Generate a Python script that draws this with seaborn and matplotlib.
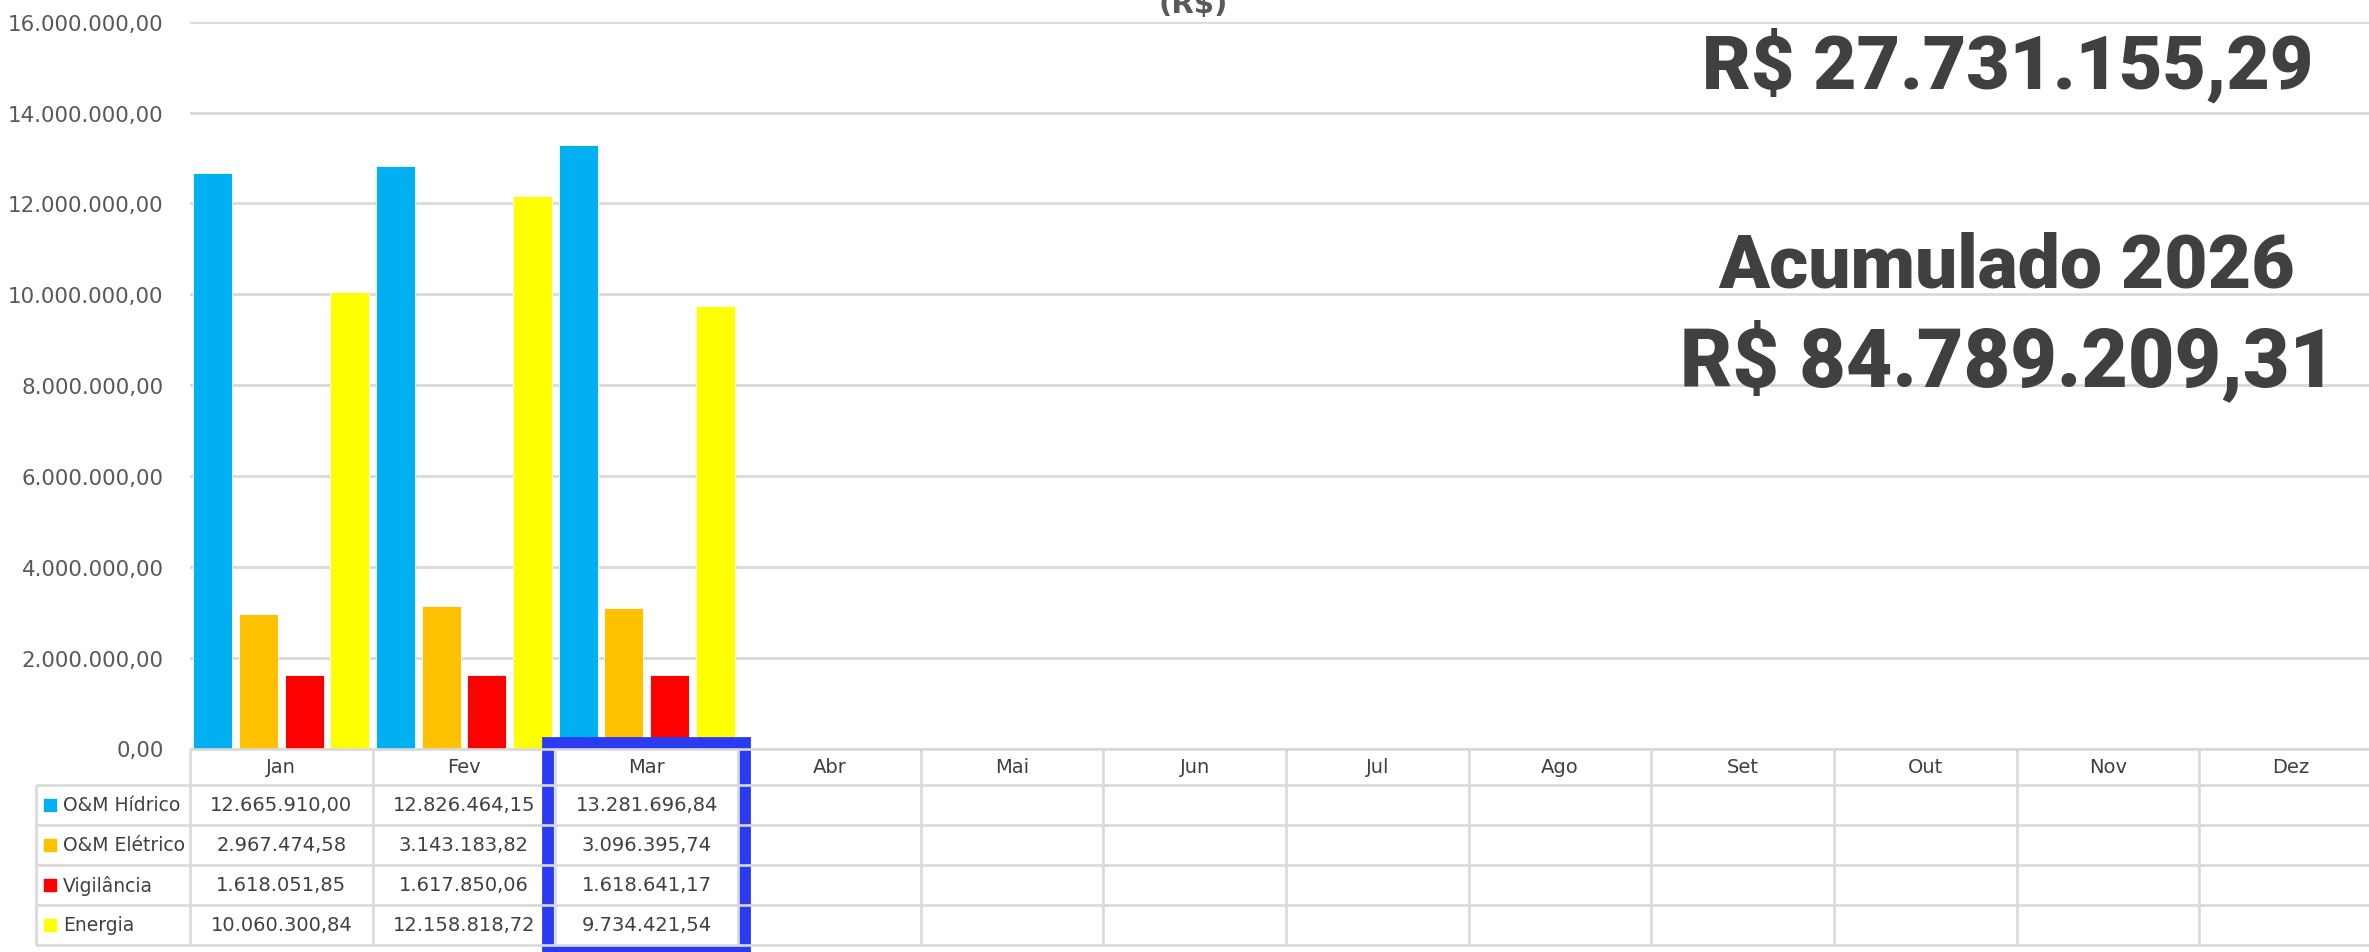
import numpy as np
import pandas as pd
import seaborn as sns
import matplotlib.pyplot as plt
from matplotlib.patches import Rectangle
from matplotlib.ticker import FuncFormatter

# dados (R$)
meses = ['Jan', 'Fev', 'Mar', 'Abr', 'Mai', 'Jun', 'Jul', 'Ago', 'Set', 'Out', 'Nov', 'Dez']
series = ['O&M Hídrico', 'O&M Elétrico', 'Vigilância', 'Energia']
cores = ['#00B0F0', '#FFC000', '#FF0000', '#FFFF00']

om_hidrico = [12665910.00, 12826464.15, 13281696.84]
om_eletrico = [2967474.58, 3143183.82, 3096395.74]
vigilancia = [1618051.85, 1617850.06, 1618641.17]
energia = [10060300.84, 12158818.72, 9734421.54]

yticks = [0, 2e6, 4e6, 6e6, 8e6, 10e6, 12e6, 14e6, 16e6]
mes_destaque = 'Mar'
ano = 2026


def brl(v):
    s = f"{v:,.2f}"
    return s.replace(',', 'X').replace('.', ',').replace('X', '.')


valores = dict(zip(series, [om_hidrico, om_eletrico, vigilancia, energia]))
linhas = []
for s, vals in valores.items():
    for m, v in zip(meses, vals):
        linhas.append((m, s, v))
df = pd.DataFrame(linhas, columns=['Mes', 'Serie', 'Valor'])

total_mes = df[df['Mes'] == mes_destaque]['Valor'].sum()
total_ano = df['Valor'].sum()

sns.set_style('white')
plt.rcParams['font.family'] = ['DejaVu Sans']

W, H = 2369, 953
fig = plt.figure(figsize=(W / 100, H / 100), dpi=100)

# grafico principal
ax = fig.add_axes([190 / W, 1 - 749.5 / H, 2192 / W, (749.5 - 22.7) / H])
sns.barplot(data=df, x='Mes', y='Valor', hue='Serie', order=meses, hue_order=series,
            palette=cores, saturation=1, width=1.0, gap=0.14, errorbar=None,
            legend=False, edgecolor='white', linewidth=0.6, ax=ax, zorder=3)
ax.set_xlim(-0.5, 11.5)
ax.set_ylim(0, 16e6)
ax.set_yticks(yticks)
ax.yaxis.set_major_formatter(FuncFormatter(lambda v, p: brl(v)))
ax.grid(axis='y', color='#D9D9D9', linewidth=2, zorder=0)
ax.tick_params(axis='y', length=0, pad=19, labelsize=15.4, labelcolor='#595959')
ax.set_xticks([])
ax.set_xlabel('')
ax.set_ylabel('')
for sp in ax.spines.values():
    sp.set_visible(False)

# tabela de dados
tab_h = 946 - 750
tax = fig.add_axes([36 / W, 1 - 946 / H, (2382 - 36) / W, tab_h / H])
leg_w = (190 - 36) / 182.7
x0 = -0.5 - leg_w
tax.set_xlim(x0, 11.5)
bordas = [0, 0.9, 1.9, 2.9, 3.9, 4.9]
tax.set_ylim(bordas[-1], 0)
tax.axis('off')
grid_kw = dict(color='#D9D9D9', linewidth=1.9, clip_on=False)
tax.hlines(0, -0.5, 11.5, **grid_kw)
tax.hlines(bordas[1:], x0, 11.5, **grid_kw)
tax.vlines(np.arange(-0.5, 12, 1), 0, bordas[-1], **grid_kw)
tax.vlines(x0, bordas[1], bordas[-1], **grid_kw)

txt_kw = dict(ha='center', va='center', fontsize=14, color='#404040')
for i, m in enumerate(meses):
    tax.text(i, bordas[1] / 2, m, **txt_kw)
for r, s in enumerate(series):
    yc = (bordas[r + 1] + bordas[r + 2]) / 2
    for i, v in enumerate(valores[s]):
        tax.text(i, yc, brl(v), **txt_kw)
    tax.scatter(x0 + 0.078, yc, marker='s', s=70, color=cores[r], clip_on=False)
    tax.text(x0 + 0.148, yc, s, ha='left', va='center', fontsize=13.5, color='#404040')

# destaque do mes
im = meses.index(mes_destaque)
tax.add_patch(Rectangle((im - 0.5 - 0.038, -0.15), 1.076, bordas[-1] + 0.3,
                        fill=False, edgecolor='#2B3BF2', linewidth=8.5, clip_on=False))

# titulo (cortado no topo)
fig.text(1193 / W, 1 - 13 / H, '(R$)', ha='center', va='baseline', fontsize=21,
         fontweight='bold', color='#595959')

# totais
big = dict(ha='center', va='center', color='#404040', fontweight='black',
           family=['Roboto', 'DejaVu Sans'])
fig.text(2008 / W, 1 - 66 / H, 'R$ ' + brl(total_mes), fontsize=54, **big)
fig.text(2006 / W, 1 - 267 / H, f'Acumulado {ano}', fontsize=54, **big)
fig.text(2008 / W, 1 - 362 / H, 'R$ ' + brl(total_ano), fontsize=58, **big)

fig.savefig('out.png', dpi=100)
